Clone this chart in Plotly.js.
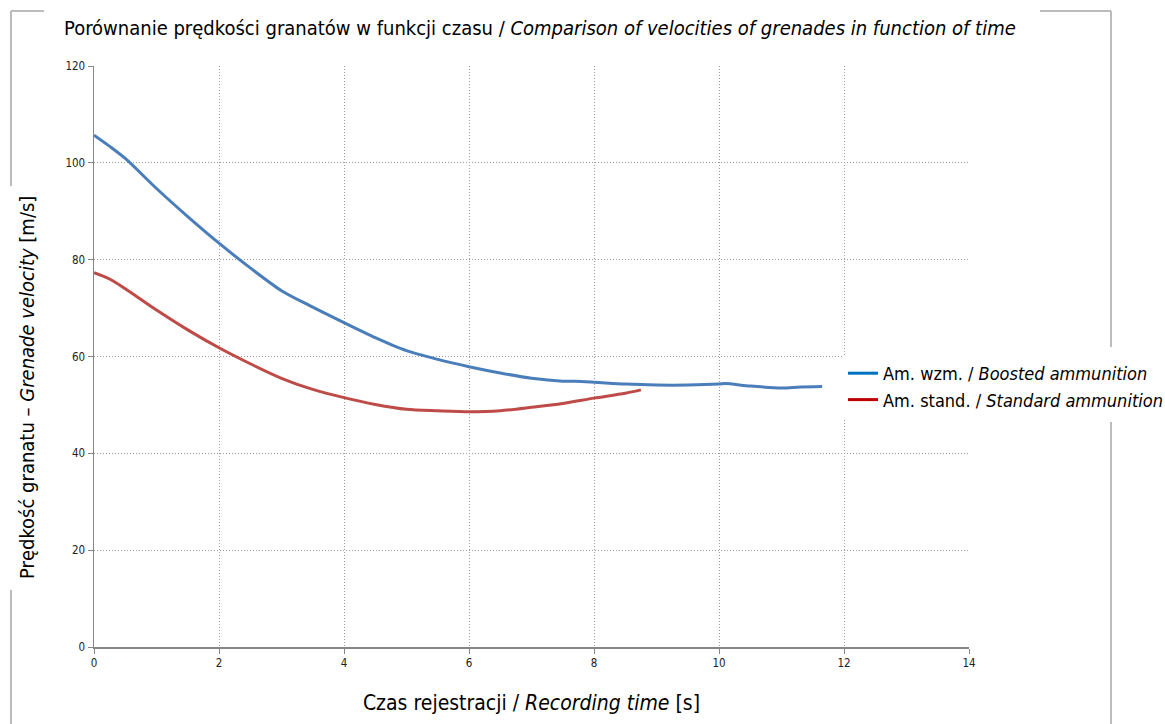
<!DOCTYPE html>
<html>
<head>
<meta charset="utf-8">
<script src="https://cdn.plot.ly/plotly-3.0.1.min.js"></script>
<style>
html,body{margin:0;padding:0;background:#fff;}
#chart{width:1165px;height:724px;}
</style>
</head>
<body>
<div id="chart"></div>
<script>
// ---- data ----
const boostedTime = [0, 0.25, 0.5, 1.0, 1.5, 2.0, 2.5, 3.0, 3.5, 4.0, 4.5, 5.0, 5.5, 6.0, 6.5, 7.0, 7.5, 7.7, 8.0, 8.5, 9.0, 9.5, 10.0, 10.1, 10.5, 11.0, 11.3, 11.65];
const boostedVel  = [105.7, 103.4, 100.9, 94.7, 88.9, 83.4, 78.3, 73.6, 70.2, 67.0, 63.9, 61.2, 59.4, 57.9, 56.6, 55.5, 54.9, 54.9, 54.7, 54.3, 54.1, 54.1, 54.3, 54.4, 53.9, 53.5, 53.7, 53.8];
const standardTime = [0, 0.25, 0.5, 1.0, 1.5, 2.0, 2.5, 3.0, 3.5, 4.0, 4.5, 5.0, 5.5, 6.0, 6.5, 7.0, 7.5, 8.0, 8.5, 8.75];
const standardVel  = [77.3, 76.0, 74.0, 69.6, 65.5, 61.8, 58.5, 55.5, 53.2, 51.5, 50.1, 49.1, 48.8, 48.6, 48.8, 49.5, 50.3, 51.4, 52.4, 53.1];
const seriesNames = ['Am. wzm. / <i>Boosted ammunition</i>', 'Am. stand. / <i>Standard ammunition</i>'];
const xTicks = [0, 2, 4, 6, 8, 10, 12, 14];
const yTicks = [0, 20, 40, 60, 80, 100, 120];
const chartTitle = 'Porównanie prędkości granatów w funkcji czasu / <i>Comparison of velocities of grenades in function of time</i>';
const xTitle = 'Czas rejestracji / <i>Recording time</i> [s]';
const yTitle = 'Prędkość granatu – <i>Grenade velocity</i> [m/s]';

// ---- layout helpers ----
const W = 1165, H = 724;
const M = {l: 94, r: 196, t: 66, b: 77, autoexpand: false};
const PW = W - M.l - M.r, PH = H - M.t - M.b;
const px = v => (v - M.l) / PW;
const py = v => (H - M.b - v) / PH;
const FONT = '"DejaVu Sans Condensed", "Liberation Sans Narrow", "Noto Sans", sans-serif';
const frameColor = '#a6a6a6';
function seg(x0, y0, x1, y1) {
  return {type: 'line', xref: 'paper', yref: 'paper', x0: px(x0), y0: py(y0), x1: px(x1), y1: py(y1),
          line: {color: frameColor, width: 1.5}, layer: 'below'};
}

const traces = [
  {x: boostedTime, y: boostedVel, mode: 'lines', line: {color: '#4a7ebb', width: 3, shape: 'spline', smoothing: 0.8}, showlegend: false},
  {x: standardTime, y: standardVel, mode: 'lines', line: {color: '#be4b48', width: 3, shape: 'spline', smoothing: 0.8}, showlegend: false},
  {x: [null], y: [null], mode: 'lines', name: seriesNames[0], line: {color: '#0070c0', width: 3}},
  {x: [null], y: [null], mode: 'lines', name: seriesNames[1], line: {color: '#c00000', width: 3}}
];

const axisCommon = {
  showgrid: true, gridcolor: '#9a9a9a', griddash: '1px,2px', gridwidth: 1, zeroline: false,
  showline: true, linecolor: '#868686', linewidth: 1.5, ticks: 'outside', ticklen: 5, tickcolor: '#868686',
  tickfont: {size: 11.5, color: '#222'}, automargin: false, fixedrange: true
};

const layout = {
  width: W, height: H,
  margin: M,
  paper_bgcolor: '#fff', plot_bgcolor: '#fff',
  font: {family: FONT, color: '#000'},
  title: {text: chartTitle, font: {family: FONT, size: 20, color: '#000'}, xref: 'container', yref: 'container',
          x: 64 / W, xanchor: 'left', y: 1 - 28 / H, yanchor: 'middle', automargin: false},
  xaxis: Object.assign({}, axisCommon, {range: [0, 14], tickvals: xTicks, ticktext: xTicks.map(String),
          title: {text: xTitle, font: {size: 21, color: '#000'}, standoff: 26}}),
  yaxis: Object.assign({}, axisCommon, {range: [0, 120], tickvals: yTicks, ticktext: yTicks.map(String)}),
  annotations: [
    {text: yTitle, xref: 'paper', yref: 'paper', x: px(27), y: py(388), xanchor: 'center', yanchor: 'middle',
     textangle: -90, showarrow: false, font: {size: 20, color: '#000'}}
  ],
  legend: {x: px(843), y: py(355), xanchor: 'left', yanchor: 'top', bgcolor: '#fff',
           font: {size: 18, color: '#000'}, tracegroupgap: 0, itemwidth: 30},
  shapes: [
    seg(11, 11, 44, 11), seg(1040, 11, 1111, 11),
    seg(11, 11, 11, 186), seg(11, 590, 11, 730),
    seg(1111, 11, 1111, 347), seg(1111, 422, 1111, 730)
  ],
  showlegend: true
};

Plotly.newPlot('chart', traces, layout, {displayModeBar: false, staticPlot: true});
</script>
</body>
</html>
